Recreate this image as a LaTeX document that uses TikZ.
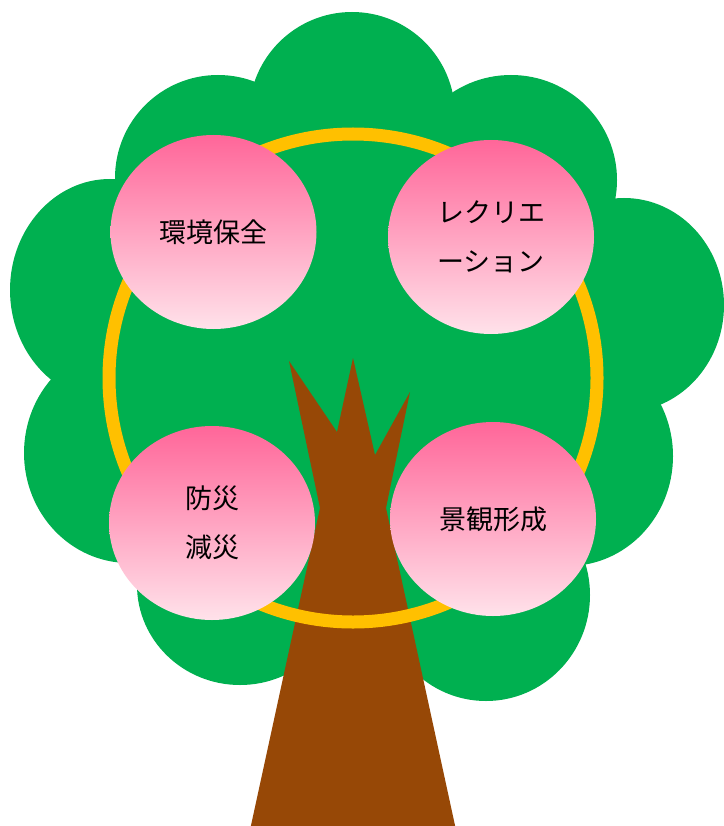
\documentclass[tikz,border=0pt]{standalone}
\usepackage{fontspec}
\newfontfamily\jpfont{Noto Sans CJK JP}
\usetikzlibrary{shapes.geometric}
\definecolor{leaf}{RGB}{0,176,80}
\definecolor{bark}{RGB}{151,72,6}
\definecolor{ringgold}{RGB}{255,192,0}
\definecolor{blossomtop}{RGB}{255,102,153}
\definecolor{blossombot}{RGB}{255,226,234}
\tikzset{
  lobe/.style={fill=leaf, draw=none},
  trunkfill/.style={fill=bark, draw=none},
  bandring/.style={draw=ringgold, line width=13pt},
  blossom/.style={ellipse, draw=none, inner sep=0pt,
    minimum width=206pt, minimum height=194pt,
    top color=blossomtop, bottom color=blossombot,
    align=center, text=black,
    font=\jpfont\fontsize{27pt}{49pt}\selectfont},
}
\begin{document}
\begin{tikzpicture}[x=1pt, y=-1pt]
  \useasboundingbox (0,0) rectangle (723,826);
  \fill[white] (0,0) rectangle (723,826);

  % canopy: overlapping lobes around a filled core
  \fill[lobe] (353,380) circle [radius=240];
  \fill[lobe] (352,115) ellipse [x radius=103, y radius=103];
  \fill[lobe] (218,178) ellipse [x radius=103, y radius=103];
  \fill[lobe] (511,180) ellipse [x radius=106, y radius=105];
  \fill[lobe] (110,290) ellipse [x radius=100, y radius=111];
  \fill[lobe] (624,305) ellipse [x radius=100, y radius=107];
  \fill[lobe] (129,453) ellipse [x radius=105, y radius=110];
  \fill[lobe] (568,456) ellipse [x radius=105, y radius=110];
  \fill[lobe] (240,585) ellipse [x radius=103, y radius=100];
  \fill[lobe] (486,595) ellipse [x radius=104, y radius=106];

  % trunk with three branch tips
  \fill[trunkfill] (250,830) -- (320,508) -- (289,361) -- (337,432)
    -- (353,358) -- (375,455) -- (410,392) -- (386,508) -- (456,830) -- cycle;

  % golden ring
  \draw[bandring] (353,378) circle [radius=244];

  % blossoms
  \node[blossom] (env)  at (213.5,232) {環境保全};
  \node[blossom] (rec)  at (491,237)   {レクリエ\\ーション};
  \node[blossom] (dis)  at (212,523)   {防災\\減災};
  \node[blossom] (land) at (493,519)   {景観形成};
\end{tikzpicture}
\end{document}
